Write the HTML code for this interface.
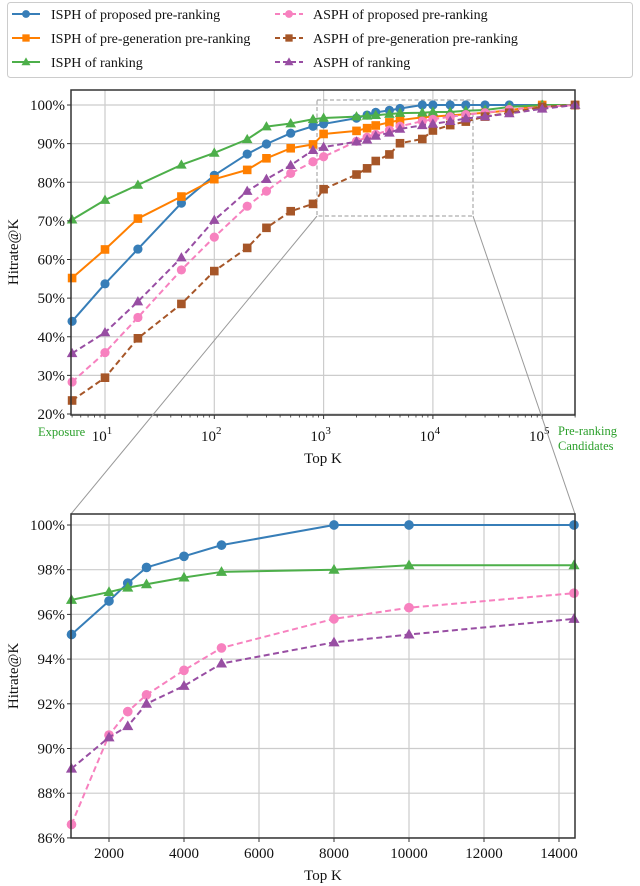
<!DOCTYPE html>
<html><head><meta charset="utf-8">
<style>
html,body{margin:0;padding:0;background:#fff;}
svg{display:block;font-family:"Liberation Serif",serif;}
</style></head>
<body>
<svg id="c" width="640" height="886" viewBox="0 0 640 886" xmlns="http://www.w3.org/2000/svg"></svg>
<script>
const topK = [5,10,20,50,100,200,300,500,800,1000,2000,2500,3000,4000,5000,8000,10000,14400,20000,30000,50000,100000,200000];
const isphProposed = [44,53.7,62.7,74.6,81.8,87.3,89.9,92.7,94.5,95.1,96.6,97.4,98.1,98.6,99.1,100,100,100,100,100,100,100,100];
const isphPregen = [55.2,62.6,70.6,76.3,80.8,83.2,86.2,88.8,89.8,92.5,93.3,94,94.7,95.5,96.1,96.8,97,97.3,97.6,98,98.6,100,100];
const isphRanking = [70.3,75.4,79.3,84.5,87.6,91.1,94.4,95.2,96.3,96.65,97,97.2,97.35,97.65,97.9,98,98.2,98.2,98.5,98.7,99.5,100,100];
const asphProposed = [28.3,35.9,45,57.3,65.8,73.8,77.7,82.3,85.3,86.6,90.6,91.65,92.4,93.5,94.5,95.8,96.3,96.95,97.5,98,98.8,99.5,100];
const asphPregen = [23.5,29.4,39.6,48.5,57,63,68.2,72.5,74.4,78.2,82,83.6,85.5,87.2,90.1,91.2,93.4,94.8,95.7,97,98,99.5,100];
const asphRanking = [35.7,41.1,49.1,60.5,70.2,77.7,80.8,84.4,88.3,89.1,90.5,91,92,92.8,93.8,94.75,95.1,95.8,96.5,97,97.8,99,100];
const topYTicks = [20,30,40,50,60,70,80,90,100];
const topXExps = [1,2,3,4,5];
const botYTicks = [86,88,90,92,94,96,98,100];
const botXTicks = [2000,4000,6000,8000,10000,12000,14000];

const NS="http://www.w3.org/2000/svg";
const svg=document.getElementById('c');
function mk(tag,attrs,parent){const e=document.createElementNS(NS,tag);for(const k in attrs)e.setAttribute(k,attrs[k]);(parent||svg).appendChild(e);return e;}

const series=[
 {name:'isph-proposed',label:'ISPH of proposed pre-ranking',vals:isphProposed,color:'#377eb8',m:'circle',dash:null,inBottom:true},
 {name:'isph-pregen',label:'ISPH of pre-generation pre-ranking',vals:isphPregen,color:'#ff7f00',m:'square',dash:null,inBottom:false},
 {name:'isph-ranking',label:'ISPH of ranking',vals:isphRanking,color:'#4daf4a',m:'tri',dash:null,inBottom:true},
 {name:'asph-proposed',label:'ASPH of proposed pre-ranking',vals:asphProposed,color:'#f781bf',m:'circle',dash:'6,3.5',inBottom:true},
 {name:'asph-pregen',label:'ASPH of pre-generation pre-ranking',vals:asphPregen,color:'#a65628',m:'square',dash:'6,3.5',inBottom:false},
 {name:'asph-ranking',label:'ASPH of ranking',vals:asphRanking,color:'#984ea3',m:'tri',dash:'6,3.5',inBottom:true}
];

function marker(g,type,x,y,color,s){
 let e;
 if(type==='circle') e=mk('circle',{cx:x,cy:y,r:4.6*s,fill:color},g);
 else if(type==='square') e=mk('rect',{x:x-4.3*s,y:y-4.3*s,width:8.6*s,height:8.6*s,fill:color},g);
 else e=mk('polygon',{points:`${x},${y-5.5*s} ${x-5.3*s},${y+3.8*s} ${x+5.3*s},${y+3.8*s}`,fill:color},g);
 return e;
}

// ---------- TOP CHART ----------
const T={l:71,r:575,t:90,b:415};
const tx=k=>105+(Math.log10(k)-1)*109.3;
const ty=p=>105+(100-p)*3.8625;
const topG=mk('g',{});


topYTicks.forEach(p=>{const l=mk('line',{x1:T.l,x2:T.r,y1:ty(p),y2:ty(p),stroke:'#cccccc','stroke-width':1.2},topG);
 });
topXExps.forEach(e=>{const x=tx(Math.pow(10,e));const l=mk('line',{x1:x,x2:x,y1:T.t,y2:T.b,stroke:'#cccccc','stroke-width':1.2},topG);
 });
const zb=mk('rect',{x:317,y:100,width:156,height:116,fill:'none',stroke:'#999','stroke-width':1,'stroke-dasharray':'4,2.5'},topG);

series.forEach(s=>{
 const g=mk('g',{},topG);
 
 
 const pts=topK.map((k,i)=>tx(k).toFixed(2)+','+ty(s.vals[i]).toFixed(2)).join(' ');
 const pl=mk('polyline',{points:pts,fill:'none',stroke:s.color,'stroke-width':2,'stroke-linejoin':'round'},g);
 if(s.dash) pl.setAttribute('stroke-dasharray',s.dash);
 topK.forEach((k,i)=>{const m=marker(g,s.m,tx(k),ty(s.vals[i]),s.color,1);
  });
});
const tf=mk('rect',{x:T.l,y:T.t,width:T.r-T.l,height:T.b-T.t,fill:'none',stroke:'#333','stroke-width':1.5},topG);

topYTicks.forEach(p=>{
 mk('line',{x1:T.l-4,x2:T.l,y1:ty(p),y2:ty(p),stroke:'#333','stroke-width':1},topG);
 const t=mk('text',{x:T.l-6,y:ty(p)+5,'text-anchor':'end','font-size':15,fill:'#111'},topG);
 t.textContent=p+'%';
 
});
for(let e=0;e<=5;e++){for(let m=1;m<10;m++){const k=m*Math.pow(10,e);const x=tx(k);
 if(x<T.l-0.5||x>T.r+0.5)continue;
 mk('line',{x1:x,x2:x,y1:T.b,y2:T.b+(m===1?4:2.5),stroke:'#333','stroke-width':m===1?1:0.8},topG);}}
topXExps.forEach(e=>{
 const t=mk('text',{x:tx(Math.pow(10,e))-3,y:441,'text-anchor':'middle','font-size':15,fill:'#111'},topG);
 t.textContent='10';
 const sp=mk('tspan',{dy:-7,'font-size':11},t);sp.textContent=String(e);
 
});
let tt=mk('text',{x:323,y:463,'text-anchor':'middle','font-size':15,fill:'#111'},topG);tt.textContent='Top K';

tt=mk('text',{x:38,y:436,'font-size':12.5,fill:'#2ca02c'},topG);tt.textContent='Exposure';

tt=mk('text',{x:558,y:435,'font-size':12.5,fill:'#2ca02c'},topG);tt.textContent='Pre-ranking';

tt=mk('text',{x:558,y:450,'font-size':12.5,fill:'#2ca02c'},topG);tt.textContent='Candidates';

tt=mk('text',{x:0,y:0,'text-anchor':'middle','font-size':15,fill:'#111',transform:'translate(18,252) rotate(-90)'},topG);tt.textContent='Hitrate@K';


let cl=mk('line',{x1:317,y1:216,x2:71,y2:514,stroke:'#999','stroke-width':1});

cl=mk('line',{x1:473,y1:216,x2:575,y2:514,stroke:'#999','stroke-width':1});


// ---------- BOTTOM CHART ----------
const B={l:71,r:575,t:514,b:838};
const bx=k=>71.5+(k-1000)*0.0375;
const by=p=>525+(100-p)*22.35;
const botG=mk('g',{});


mk('rect',{x:B.l,y:B.t,width:B.r-B.l,height:B.b-B.t,fill:'#fff'},botG);
botYTicks.forEach(p=>{const l=mk('line',{x1:B.l,x2:B.r,y1:by(p),y2:by(p),stroke:'#cccccc','stroke-width':1.2},botG);
 });
botXTicks.forEach(k=>{const l=mk('line',{x1:bx(k),x2:bx(k),y1:B.t,y2:B.b,stroke:'#cccccc','stroke-width':1.2},botG);
 });
const idx=topK.map((k,i)=>i).filter(i=>topK[i]>=1000&&topK[i]<=14400);
series.filter(s=>s.inBottom).forEach(s=>{
 const g=mk('g',{},botG);
 
 
 const pts=idx.map(i=>bx(topK[i]).toFixed(2)+','+by(s.vals[i]).toFixed(2)).join(' ');
 const pl=mk('polyline',{points:pts,fill:'none',stroke:s.color,'stroke-width':2,'stroke-linejoin':'round'},g);
 if(s.dash) pl.setAttribute('stroke-dasharray',s.dash);
 idx.forEach(i=>{const m=marker(g,s.m,bx(topK[i]),by(s.vals[i]),s.color,1.05);
  });
});
const bf=mk('rect',{x:B.l,y:B.t,width:B.r-B.l,height:B.b-B.t,fill:'none',stroke:'#333','stroke-width':1.5},botG);

botYTicks.forEach(p=>{
 mk('line',{x1:B.l-4,x2:B.l,y1:by(p),y2:by(p),stroke:'#333','stroke-width':1},botG);
 const t=mk('text',{x:B.l-6,y:by(p)+5,'text-anchor':'end','font-size':15,fill:'#111'},botG);
 t.textContent=p+'%';
 
});
botXTicks.forEach(k=>{
 mk('line',{x1:bx(k),x2:bx(k),y1:B.b,y2:B.b+4,stroke:'#333','stroke-width':1},botG);
 const t=mk('text',{x:bx(k),y:858,'text-anchor':'middle','font-size':15,fill:'#111'},botG);
 t.textContent=String(k);
 
});
tt=mk('text',{x:323,y:880,'text-anchor':'middle','font-size':15,fill:'#111'},botG);tt.textContent='Top K';

tt=mk('text',{x:0,y:0,'text-anchor':'middle','font-size':15,fill:'#111',transform:'translate(18,676) rotate(-90)'},botG);tt.textContent='Hitrate@K';


// ---------- LEGEND ----------
const lg=mk('g',{});


mk('rect',{x:7.5,y:2.5,width:625,height:75,rx:3,fill:'#fff',stroke:'#ccc','stroke-width':1},lg);
series.forEach((s,i)=>{
 const col=i<3?0:1,row=i%3;
 const hx=col?275:12, tx0=col?313:51, yy=14+row*24;
 const e=mk('g',{},lg);
 
 
 const l=mk('line',{x1:hx,x2:hx+28,y1:yy,y2:yy,stroke:s.color,'stroke-width':2},e);
 if(s.dash) l.setAttribute('stroke-dasharray','5,3');
 marker(e,s.m,hx+14,yy,s.color,0.85);
 const t=mk('text',{x:tx0,y:yy+5,'font-size':14,fill:'#111'},e);
 t.textContent=s.label;
});
</script>
</body></html>
